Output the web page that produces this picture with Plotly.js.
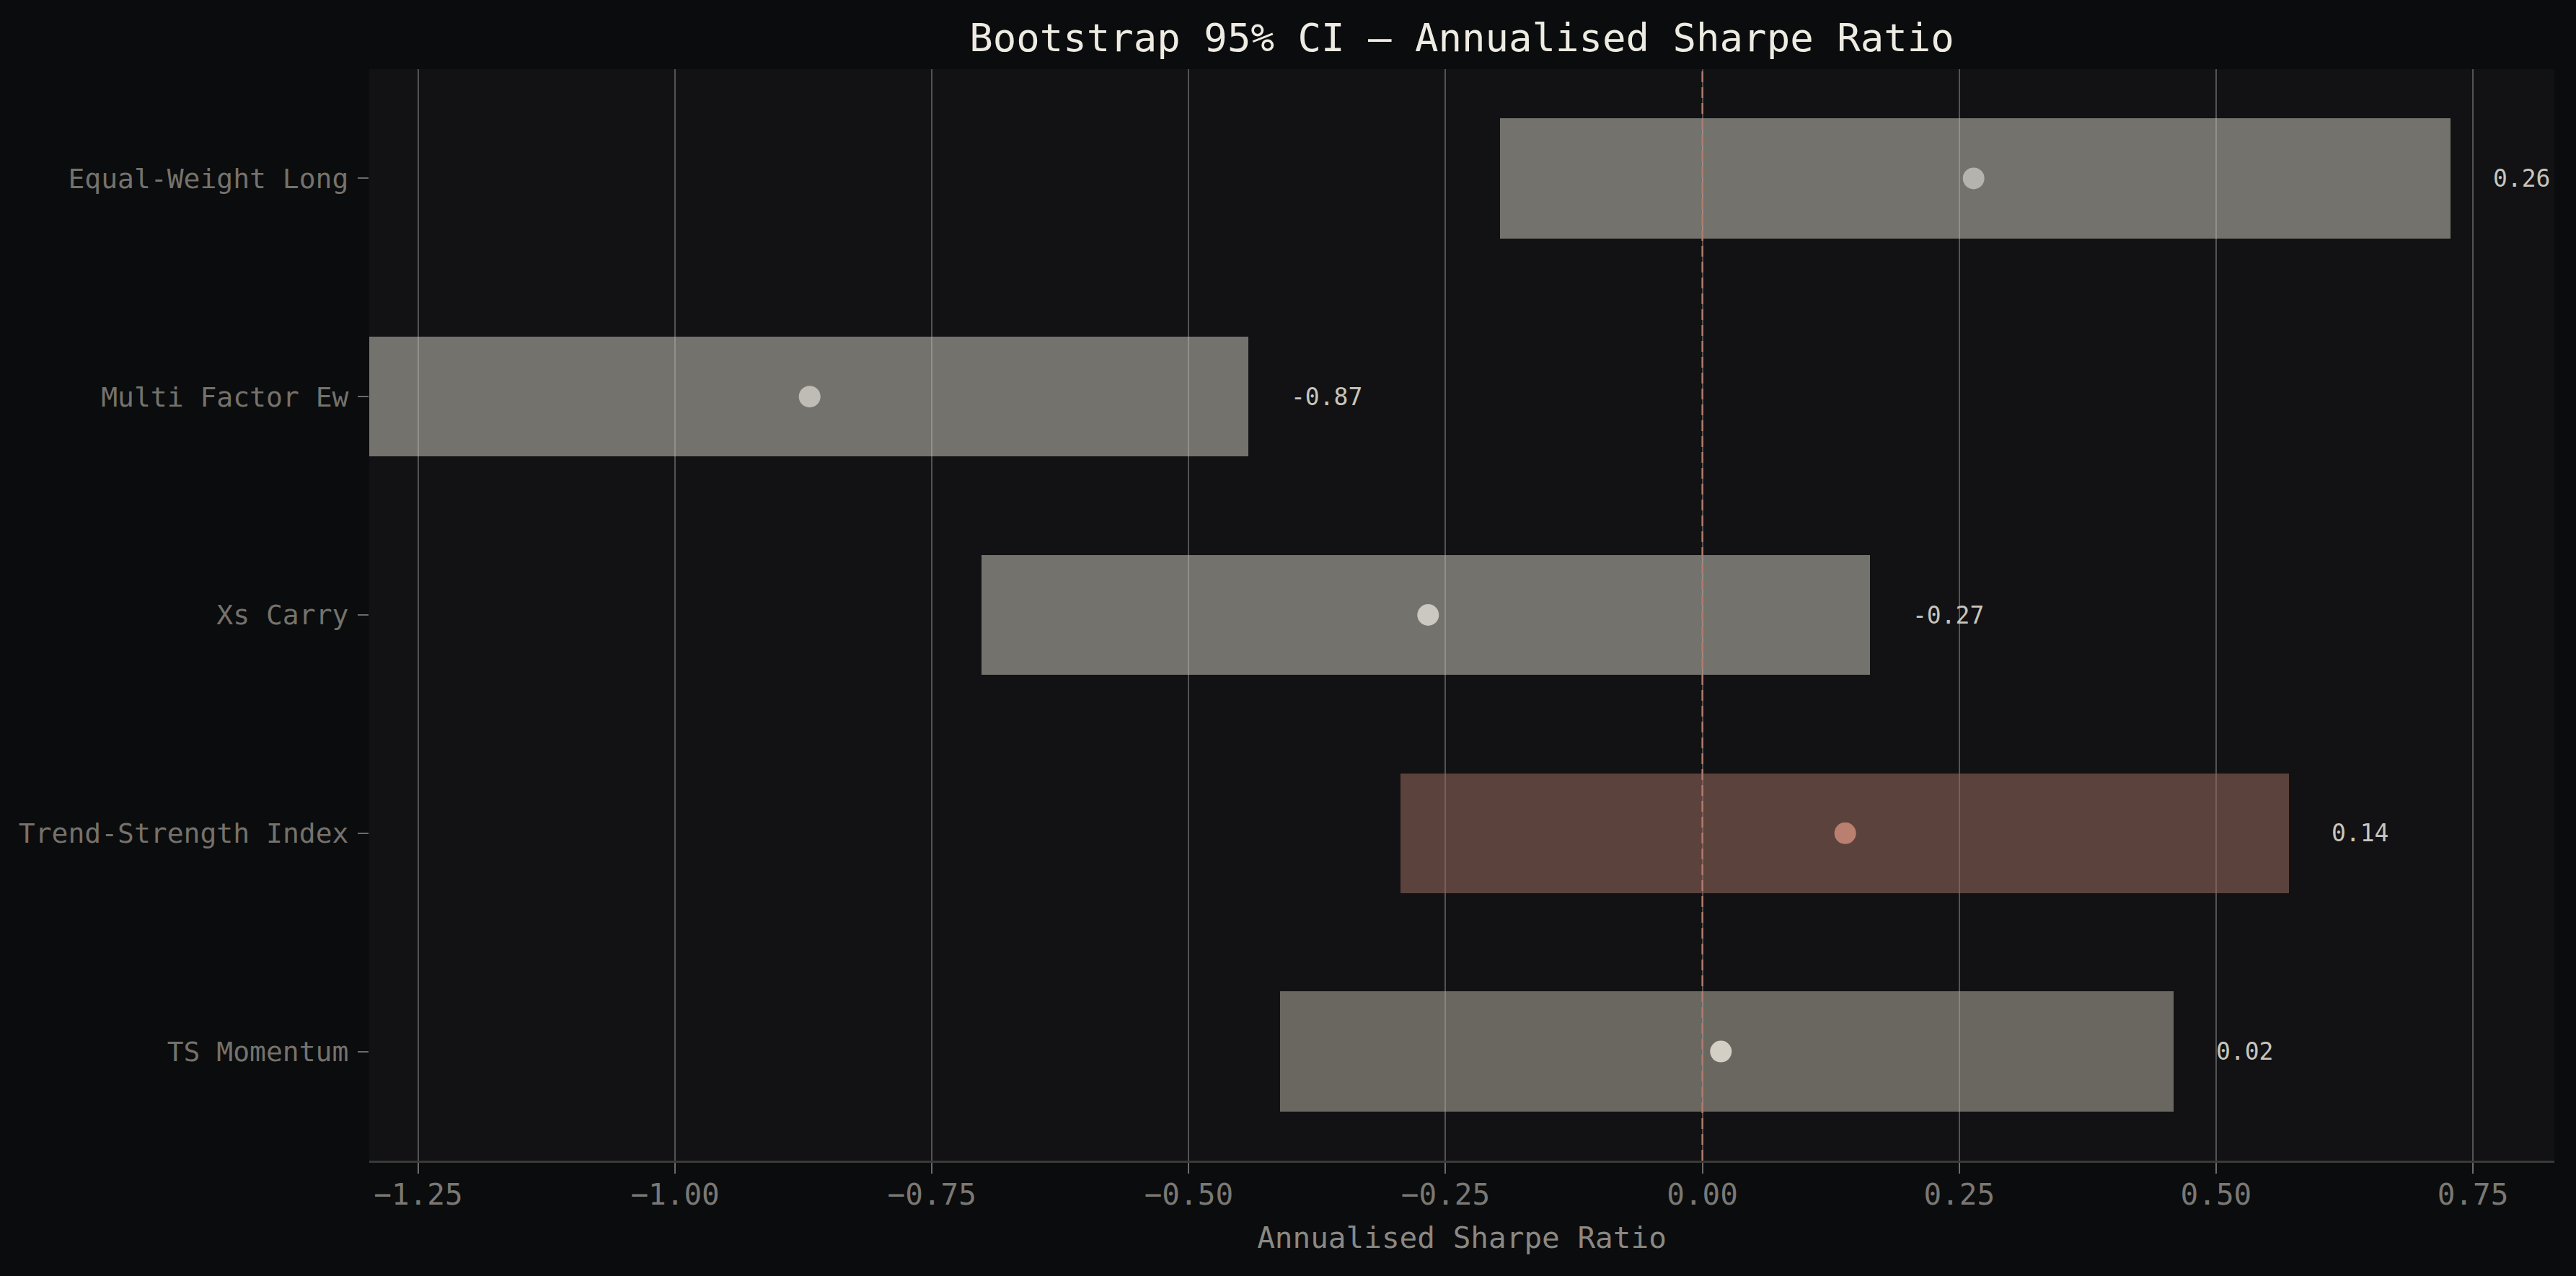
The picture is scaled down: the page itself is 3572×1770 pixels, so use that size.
<!DOCTYPE html>
<html>
<head>
<meta charset="utf-8">
<script src="https://cdn.plot.ly/plotly-3.0.1.min.js"></script>
<style>
html,body{margin:0;padding:0;background:#0b0c0e;}
#chart{width:3572px;height:1770px;}
</style>
</head>
<body>
<div id="chart"></div>
<script>
// Data (top to bottom)
const strategies = ["Equal-Weight Long", "Multi Factor Ew", "Xs Carry", "Trend-Strength Index", "TS Momentum"];
const sharpe     = [0.264, -0.869, -0.267, 0.139, 0.018];
const ciLow      = [-0.197, -1.30, -0.702, -0.294, -0.411];
const ciHigh     = [0.728, -0.442, 0.163, 0.571, 0.459];
const xTickVals  = [-1.25, -1.00, -0.75, -0.50, -0.25, 0.00, 0.25, 0.50, 0.75];

// Styles
const barColors   = ["rgba(194,193,182,0.55)", "rgba(194,193,182,0.55)", "rgba(194,193,182,0.55)", "rgba(153,105,93,0.55)", "rgba(178,173,160,0.55)"];
const pointColors = ["#b5b3ad", "#bfbcb5", "#cac8c0", "#b98070", "#d3cfc4"];
const FONT = "DejaVu Sans Mono, monospace";

const bars = {
  type: "bar",
  orientation: "h",
  y: strategies,
  base: ciLow,
  x: ciHigh.map((h, i) => h - ciLow[i]),
  width: 0.55,
  marker: {color: barColors, line: {width: 0}},
  hoverinfo: "skip",
  showlegend: false
};

const points = {
  type: "scatter",
  mode: "markers",
  y: strategies,
  x: sharpe,
  marker: {color: pointColors, size: 30, line: {width: 0}},
  showlegend: false,
  cliponaxis: false
};

const annotations = strategies.map((s, i) => ({
  x: ciHigh[i] + 0.04,
  y: s,
  xref: "x", yref: "y",
  text: sharpe[i].toFixed(2),
  showarrow: false,
  xanchor: "left",
  yanchor: "middle",
  font: {family: FONT, size: 33, color: "#c8c5bd"}
}));

const layout = {
  width: 3572,
  height: 1770,
  paper_bgcolor: "#0b0c0e",
  plot_bgcolor: "#121214",
  margin: {l: 512, r: 30, t: 96, b: 160},
  font: {family: FONT},
  title: {
    text: "Bootstrap 95% CI — Annualised Sharpe Ratio",
    font: {family: FONT, size: 54, color: "#eeebe2"},
    x: 0.5, xref: "paper",
    y: 1 - 52/1770, yref: "container", yanchor: "middle"
  },
  xaxis: {
    range: [-1.2977, 0.8293],
    tickvals: xTickVals,
    ticktext: xTickVals.map(v => v.toFixed(2).replace("-", "\u2212")),
    tickfont: {family: FONT, size: 41, color: "#7a7873"},
    ticks: "outside", ticklen: 15, tickwidth: 2, tickcolor: "#6b6b6b",
    ticklabelstandoff: -6,
    showgrid: true, gridcolor: "#535353", gridwidth: 2,
    zeroline: false,
    showline: true, linecolor: "#3a3a36", linewidth: 3,
    title: {text: "Annualised Sharpe Ratio", font: {family: FONT, size: 41, color: "#8a8883"}, standoff: 23},
    automargin: false,
    fixedrange: true
  },
  yaxis: {
    type: "category",
    categoryorder: "array",
    categoryarray: strategies,
    range: [4.5, -0.5],
    tickfont: {family: FONT, size: 38, color: "#75726c"},
    ticks: "outside", ticklen: 15, tickwidth: 2, tickcolor: "#6b6b6b",
    ticklabelstandoff: 5,
    showgrid: false,
    zeroline: false,
    showline: false,
    automargin: false,
    fixedrange: true
  },
  shapes: [{
    type: "line",
    xref: "x", yref: "paper",
    x0: 0, x1: 0, y0: 0, y1: 1,
    line: {color: "#b07a6a", width: 2.5, dash: "15px,7px"},
    layer: "above"
  }],
  annotations: annotations,
  bargap: 0
};

Plotly.newPlot("chart", [bars, points], layout, {displayModeBar: false, staticPlot: true});
</script>
</body>
</html>
